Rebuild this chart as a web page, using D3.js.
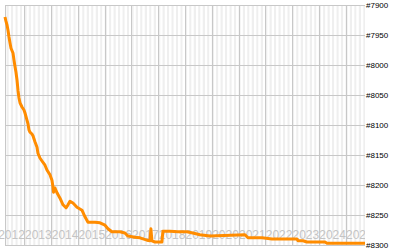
<!DOCTYPE html>
<html>
<head>
<meta charset="utf-8">
<script src="https://cdn.jsdelivr.net/npm/d3@7"></script>
<style>
  body { margin: 0; background: #fff; }
  svg { display: block; }
</style>
</head>
<body>
<div id="chart"></div>
<script>
/** Data */

var dates = [
  "2012-04-10", "2012-04-23", "2012-05-07", "2012-05-21", "2012-06-03", "2012-06-17",
  "2012-07-01", "2012-07-28", "2012-08-11", "2012-08-24", "2012-09-07", "2012-09-21",
  "2012-10-04", "2012-10-18", "2012-11-01", "2012-11-28", "2012-12-25", "2013-01-08",
  "2013-02-04", "2013-02-18", "2013-03-03", "2013-03-17", "2013-04-13", "2013-04-27",
  "2013-05-24", "2013-06-21", "2013-07-04", "2013-07-31", "2013-08-28", "2013-10-08",
  "2013-11-04", "2013-12-15", "2014-01-11", "2014-01-25", "2014-02-01", "2014-02-21",
  "2014-03-21", "2014-05-01", "2014-06-11", "2014-07-22", "2014-08-18", "2014-09-14",
  "2014-10-25", "2014-12-19", "2015-02-25", "2015-04-07", "2015-05-18", "2015-08-22",
  "2015-10-29", "2016-01-05", "2016-02-15", "2016-04-09", "2016-07-27", "2016-10-03",
  "2016-11-13", "2017-02-17", "2017-04-26", "2017-07-31", "2017-09-10", "2017-09-23",
  "2017-10-07", "2017-11-17", "2018-02-20", "2018-03-06", "2018-06-10", "2018-09-27",
  "2019-01-27", "2019-04-19", "2019-07-24", "2019-12-07", "2021-03-30", "2021-05-10",
  "2021-11-18", "2022-04-03", "2023-03-10", "2023-03-24", "2023-05-31", "2023-07-25",
  "2024-03-27", "2024-04-23", "2025-09-24"
];

var ranks = [
  7920, 7927, 7933, 7942, 7953, 7963,
  7972, 7980, 7992, 8002, 8012, 8025,
  8042, 8055, 8063, 8070, 8075, 8080,
  8092, 8098, 8108, 8112, 8115, 8118,
  8128, 8137, 8147, 8155, 8160, 8167,
  8175, 8183, 8192, 8203, 8212, 8205,
  8213, 8222, 8233, 8238, 8233, 8227,
  8230, 8237, 8242, 8253, 8262, 8262,
  8263, 8267, 8273, 8278, 8278, 8280,
  8285, 8287, 8288, 8292, 8293, 8273,
  8293, 8295, 8295, 8277, 8277, 8278,
  8278, 8280, 8283, 8285, 8283, 8288,
  8288, 8290, 8290, 8293, 8293, 8295,
  8295, 8297, 8297
];

var yTicks = [7900, 7950, 8000, 8050, 8100, 8150, 8200, 8250, 8300];
var xDomain = ["2012-04-10", "2025-09-24"];

/** Layout */

var W = 400, H = 250;
var margin = {top: 5, right: 35, bottom: 5, left: 5};
var width = W - margin.left - margin.right;
var height = H - margin.top - margin.bottom;

var parse = d3.timeParse("%Y-%m-%d");
var data = dates.map(function(d, i) { return {date: parse(d), rank: ranks[i]}; });

var svg = d3.select("#chart")
  .append("svg")
    .attr("width", W)
    .attr("height", H)
  .append("g")
    .attr("transform", "translate(" + margin.left + "," + margin.top + ")");

// labels may run off the left of the window but stop at the plot's right edge
svg.append("defs").append("clipPath")
    .attr("id", "label-clip")
  .append("rect")
    .attr("x", -margin.left)
    .attr("y", 0)
    .attr("width", width + margin.left)
    .attr("height", height);

var x = d3.scaleTime()
  .domain(xDomain.map(parse))
  .range([0, width]);

var y = d3.scaleLinear()
  .domain([7900, 8300])
  .range([0, height]);

// month bands
var months = d3.timeMonth.range(d3.timeMonth.floor(x.domain()[0]), x.domain()[1]);
svg.append("g")
  .selectAll("rect")
  .data(months)
  .enter()
  .append("rect")
    .attr("x", function(d) { return Math.max(0, x(d)); })
    .attr("y", 0)
    .attr("width", function(d) {
      var x0 = Math.max(0, x(d));
      var x1 = Math.min(width, x(d3.timeMonth.offset(d, 1)));
      return Math.max(0, x1 - x0);
    })
    .attr("height", height)
    .attr("fill", function(d) { return d.getMonth() % 2 === 0 ? "#efefef" : "#ffffff"; });

// year grid lines
var years = d3.timeYear.range(d3.timeYear.ceil(x.domain()[0]), x.domain()[1]);
svg.append("g")
  .selectAll("line")
  .data(years)
  .enter()
  .append("line")
    .attr("x1", function(d) { return Math.round(x(d)) + 0.5; })
    .attr("x2", function(d) { return Math.round(x(d)) + 0.5; })
    .attr("y1", 0)
    .attr("y2", height)
    .attr("stroke", "#c8c8c8");

// left border
svg.append("line")
  .attr("x1", 0.5).attr("x2", 0.5)
  .attr("y1", 0).attr("y2", height)
  .attr("stroke", "#c8c8c8");

// horizontal grid lines
svg.append("g")
  .selectAll("line")
  .data(yTicks)
  .enter()
  .append("line")
    .attr("x1", 0)
    .attr("x2", width)
    .attr("y1", function(d) { return Math.round(y(d)) + 0.5; })
    .attr("y2", function(d) { return Math.round(y(d)) + 0.5; })
    .attr("stroke", "#c8c8c8");

// year labels (inside the plot, bottom)
var labelYears = d3.timeYear.range(d3.timeYear.floor(x.domain()[0]), x.domain()[1]);
svg.append("g")
  .attr("clip-path", "url(#label-clip)")
  .selectAll("text")
  .data(labelYears)
  .enter()
  .append("text")
    .attr("x", function(d) { return x(d) + 0.5; })
    .attr("y", height - 6.5)
    .attr("font-family", "Liberation Sans, Arial, sans-serif")
    .attr("font-size", "12px")
    .attr("fill", "#c4c4c4")
    .text(function(d) { return d3.timeFormat("%Y")(d); });

// right axis labels
svg.append("g")
  .selectAll("text")
  .data(yTicks)
  .enter()
  .append("text")
    .attr("x", width + 1)
    .attr("y", function(d) { return y(d); })
    .attr("dy", "0.35em")
    .attr("font-family", "Liberation Sans, Arial, sans-serif")
    .attr("font-size", "8px")
    .attr("fill", "#000")
    .text(function(d) { return "#" + d; });

// the line
svg.append("path")
  .datum(data)
  .attr("fill", "none")
  .attr("stroke", "#ff8c00")
  .attr("stroke-width", 3)
  .attr("stroke-linejoin", "round")
  .attr("d", d3.line()
    .x(function(d) { return x(d.date); })
    .y(function(d) { return y(d.rank); })
  );
</script>
</body>
</html>
